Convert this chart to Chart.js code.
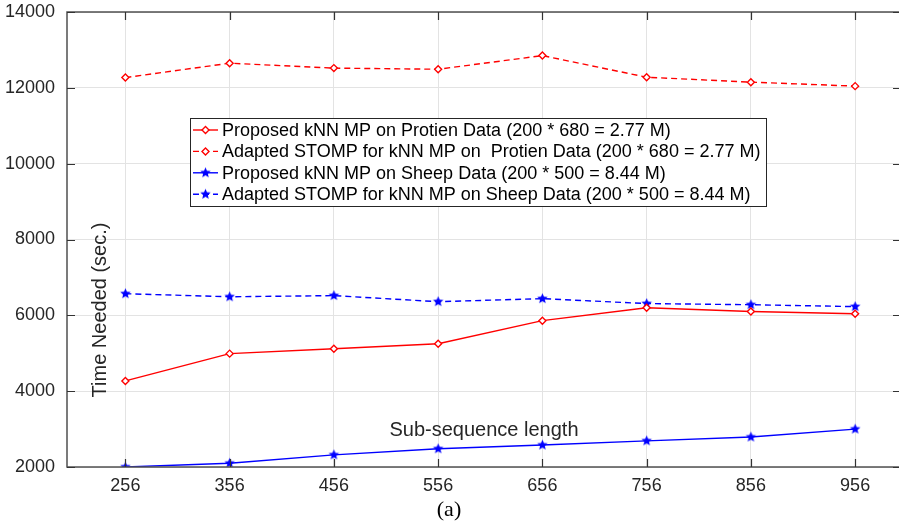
<!DOCTYPE html>
<html>
<head>
<meta charset="utf-8">
<script src="https://cdn.jsdelivr.net/npm/chart.js@4"></script>
<style>
  html, body { margin: 0; padding: 0; background: #fff; overflow: hidden; }
  #wrap { width: 901px; height: 527px; }
</style>
</head>
<body>
<div id="wrap"><canvas id="chart"></canvas></div>
<script>
const lengths = [256, 356, 456, 556, 656, 756, 856, 956];
const yTicks = [2000, 4000, 6000, 8000, 10000, 12000, 14000];

const proposedProtien = [4270, 4990, 5120, 5250, 5860, 6200, 6100, 6040];
const stompProtien = [12270, 12650, 12520, 12490, 12850, 12280, 12150, 12045];
const proposedSheep = [2000, 2100, 2320, 2480, 2580, 2690, 2790, 3000];
const stompSheep = [6570, 6490, 6520, 6360, 6440, 6310, 6280, 6230];

const labels = [
  "Proposed kNN MP on Protien Data (200 * 680 = 2.77 M)",
  "Adapted STOMP for kNN MP on  Protien Data (200 * 680 = 2.77 M)",
  "Proposed kNN MP on Sheep Data (200 * 500 = 8.44 M)",
  "Adapted STOMP for kNN MP on Sheep Data (200 * 500 = 8.44 M)"
];

const FONT = "Liberation Sans, Arial, sans-serif";

// filled star marker
function makeStar(color, r) {
  const c = document.createElement("canvas");
  const s = Math.ceil(r * 2 + 2);
  c.width = s; c.height = s;
  const g = c.getContext("2d");
  g.fillStyle = color;
  g.beginPath();
  for (let i = 0; i < 10; i++) {
    const rad = i % 2 === 0 ? r : r * 0.45;
    const a = -Math.PI / 2 + i * Math.PI / 5;
    const px = s / 2 + rad * Math.cos(a), py = s / 2 + rad * Math.sin(a);
    i === 0 ? g.moveTo(px, py) : g.lineTo(px, py);
  }
  g.closePath();
  g.fill();
  return c;
}
const blueStar = makeStar("#0000ff", 5.5);

function pts(arr) {
  return arr.map((v, i) => ({ x: lengths[i], y: v }));
}

const datasets = [
  { label: labels[0], data: pts(proposedProtien), borderColor: "#ff0000", borderWidth: 1.4,
    pointStyle: "rectRot", pointRadius: 3.5, pointBorderColor: "#ff0000", pointBackgroundColor: "#fff", pointBorderWidth: 1.4 },
  { label: labels[1], data: pts(stompProtien), borderColor: "#ff0000", borderWidth: 1.4, borderDash: [6, 4],
    pointStyle: "rectRot", pointRadius: 3.5, pointBorderColor: "#ff0000", pointBackgroundColor: "#fff", pointBorderWidth: 1.4 },
  { label: labels[2], data: pts(proposedSheep), borderColor: "#0000ff", borderWidth: 1.4,
    pointStyle: blueStar, pointRadius: 6 },
  { label: labels[3], data: pts(stompSheep), borderColor: "#0000ff", borderWidth: 1.4, borderDash: [6, 4],
    pointStyle: blueStar, pointRadius: 6 }
];
datasets.forEach(d => { d.tension = 0; d.fill = false; d.backgroundColor = d.borderColor; });

const decor = {
  id: "decor",
  afterDatasetsDraw(chart) {
    const ctx = chart.ctx;
    const a = chart.chartArea;
    const xs = chart.scales.x, ys = chart.scales.y;
    ctx.save();
    // frame
    ctx.strokeStyle = "#505050";
    ctx.lineWidth = 1.5;
    ctx.strokeRect(a.left, a.top, a.right - a.left, a.bottom - a.top);
    // inward ticks
    ctx.lineWidth = 1.2;
    ctx.strokeStyle = "#333";
    const tl = 8;
    lengths.forEach(v => {
      const px = Math.round(xs.getPixelForValue(v)) + 0.5;
      ctx.beginPath();
      ctx.moveTo(px, a.bottom); ctx.lineTo(px, a.bottom - tl);
      ctx.moveTo(px, a.top); ctx.lineTo(px, a.top + tl);
      ctx.stroke();
    });
    yTicks.forEach(v => {
      const py = Math.round(ys.getPixelForValue(v)) + 0.5;
      ctx.beginPath();
      ctx.moveTo(a.left, py); ctx.lineTo(a.left + tl, py);
      ctx.moveTo(a.right, py); ctx.lineTo(a.right - tl, py);
      ctx.stroke();
    });

    // texts inside the plot
    ctx.fillStyle = "#262626";
    ctx.font = "20px " + FONT;
    ctx.textAlign = "center";
    ctx.textBaseline = "middle";
    ctx.fillText("Sub-sequence length", 484, 430);
    ctx.save();
    ctx.translate(100, 310);
    ctx.rotate(-Math.PI / 2);
    ctx.fillText("Time Needed (sec.)", 0, 0);
    ctx.restore();

    // legend box
    const lx = 190, ly = 118, lw = 576, lh = 88;
    ctx.fillStyle = "#fff";
    ctx.fillRect(lx, ly, lw, lh);
    ctx.strokeStyle = "#262626";
    ctx.lineWidth = 1;
    ctx.strokeRect(lx + 0.5, ly + 0.5, lw, lh);
    ctx.textAlign = "left";
    ctx.font = "18px " + FONT;
    chart.data.datasets.forEach((d, i) => {
      const ry = 130 + i * 21.4;
      ctx.strokeStyle = d.borderColor;
      ctx.lineWidth = 1.4;
      ctx.setLineDash(d.borderDash || []);
      ctx.beginPath();
      ctx.moveTo(193, ry); ctx.lineTo(218, ry);
      ctx.stroke();
      ctx.setLineDash([]);
      if (d.pointStyle === "rectRot") {
        ctx.fillStyle = "#fff";
        ctx.beginPath();
        ctx.moveTo(205.5, ry - 3.5); ctx.lineTo(209, ry); ctx.lineTo(205.5, ry + 3.5); ctx.lineTo(202, ry);
        ctx.closePath();
        ctx.fill(); ctx.stroke();
      } else {
        ctx.drawImage(blueStar, 205.5 - blueStar.width / 2, ry - blueStar.height / 2);
      }
      ctx.fillStyle = "#000";
      ctx.fillText(d.label, 222, ry + 1);
    });

    // caption
    ctx.font = "22px Liberation Serif, Times New Roman, serif";
    ctx.textAlign = "center";
    ctx.fillStyle = "#000";
    ctx.fillText("(a)", 449, 510);
    ctx.restore();
  }
};

new Chart(document.getElementById("chart"), {
  type: "line",
  data: { datasets },
  options: {
    responsive: true,
    maintainAspectRatio: false,
    animation: false,
    layout: { autoPadding: false, padding: { top: 12, right: 0, left: 0, bottom: 0 } },
    plugins: { legend: { display: false }, tooltip: { enabled: false } },
    scales: {
      x: {
        type: "linear",
        min: 200,
        max: 1000,
        afterBuildTicks: s => { s.ticks = lengths.map(v => ({ value: v })); },
        afterFit: s => { s.height = 60; s.paddingLeft = 0; s.paddingRight = 0; },
        grid: { color: "#e3e3e3", drawTicks: false },
        border: { display: false },
        ticks: { color: "#262626", font: { family: FONT, size: 18 }, padding: 8, maxRotation: 0 }
      },
      y: {
        min: 2000,
        max: 14000,
        afterBuildTicks: s => { s.ticks = yTicks.map(v => ({ value: v })); },
        afterFit: s => { s.width = 67; s.paddingTop = 0; s.paddingBottom = 0; },
        grid: { color: "#e3e3e3", drawTicks: false },
        border: { display: false },
        ticks: { color: "#262626", font: { family: FONT, size: 18 }, padding: 12, callback: v => String(v) }
      }
    }
  },
  plugins: [decor]
});
</script>
</body>
</html>
